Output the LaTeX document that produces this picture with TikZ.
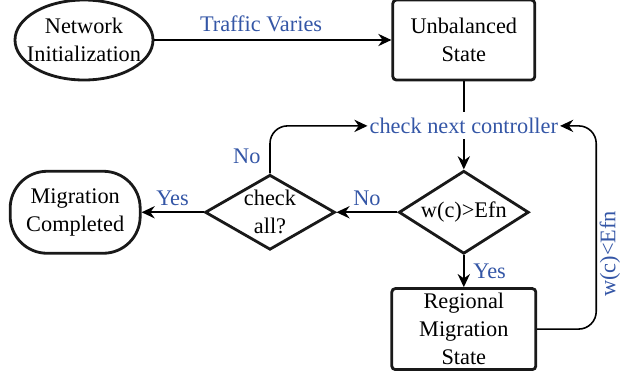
\documentclass[tikz,border=0pt]{standalone}
\usepackage{fontspec}
\setmainfont{Liberation Serif}
\usepackage{xcolor}
\usetikzlibrary{shapes.geometric,arrows.meta,positioning}
\definecolor{lblblue}{RGB}{52,86,166}

\begin{document}
\begin{tikzpicture}[
  font=\fontsize{12.7}{16}\selectfont,
  box/.style={rectangle, draw=black!90, line width=1.6pt, rounded corners=2pt,
    align=center, inner sep=0pt, minimum width=2.84cm, minimum height=1.6cm},
  startnode/.style={ellipse, draw=black!90, line width=1.6pt, inner sep=0pt,
    minimum width=2.76cm, minimum height=1.6cm},
  decision/.style={diamond, draw=black!90, line width=1.6pt, inner sep=0pt,
    minimum width=2.6cm, minimum height=1.66cm},
  endnode/.style={rectangle, draw=black!90, line width=1.6pt, rounded corners=21pt,
    align=center, inner sep=0pt, minimum width=2.6cm, minimum height=1.64cm},
  txt/.style={align=center, inner sep=0pt},
  lbl/.style={text=lblblue, inner sep=1pt},
  arrow/.style={-{Stealth[length=7.5pt,width=7pt,inset=2.5pt]}, line width=0.9pt}
]
\useasboundingbox (0,0) rectangle (12.78,-7.44);
\node[startnode] (init) at (1.68,-0.8) {};
\node[txt] (inittext) at (init) {Network\\Initialization};
\node[box, right=4.74cm of init] (unbal) {Unbalanced\\State};
\node[lbl, inner xsep=1pt, inner ysep=3pt, below=0.62cm of unbal] (ctrl) {check next controller};
\node[decision, below=0.6cm of ctrl] (wcheck) {};
\node[txt] (wtext) at (wcheck) {w(c)>Efn};
\node[decision, minimum height=1.5cm, left=1.22cm of wcheck] (all) {};
\node[txt] (alltext) at (all) {check\\all?};
\node[endnode, left=1.24cm of all] (done) {Migration\\Completed};
\node[box, minimum width=2.88cm, minimum height=1.62cm, below=0.64cm of wcheck] (region) {Regional\\Migration\\State};
\coordinate[right=1.18cm of region] (loop);
\node[lbl, rotate=90] (wlow) at (12.2,-5.08) {w(c)<Efn};

\draw[arrow] (init) -- (unbal) node[lbl, pos=0.45, above=3pt] (traffic) {Traffic Varies};
\draw[line width=0.9pt] (unbal) -- (ctrl);
\draw[arrow] (ctrl) -- (wcheck);
\draw[arrow] (wcheck) -- (all) node[lbl, midway, above=2pt] (no1) {No};
\draw[arrow] (all) -- (done) node[lbl, midway, above=2pt] (yes1) {Yes};
\draw[arrow, rounded corners=10pt] (all.north) |- (ctrl.west) node[lbl, pos=0.18, left=4pt] (no2) {No};
\draw[arrow] (wcheck) -- (region) node[lbl, midway, right=4pt] (yes2) {Yes};
\draw[arrow, rounded corners=10pt] (region) -- (loop) |- (ctrl.east);
\end{tikzpicture}
\end{document}
